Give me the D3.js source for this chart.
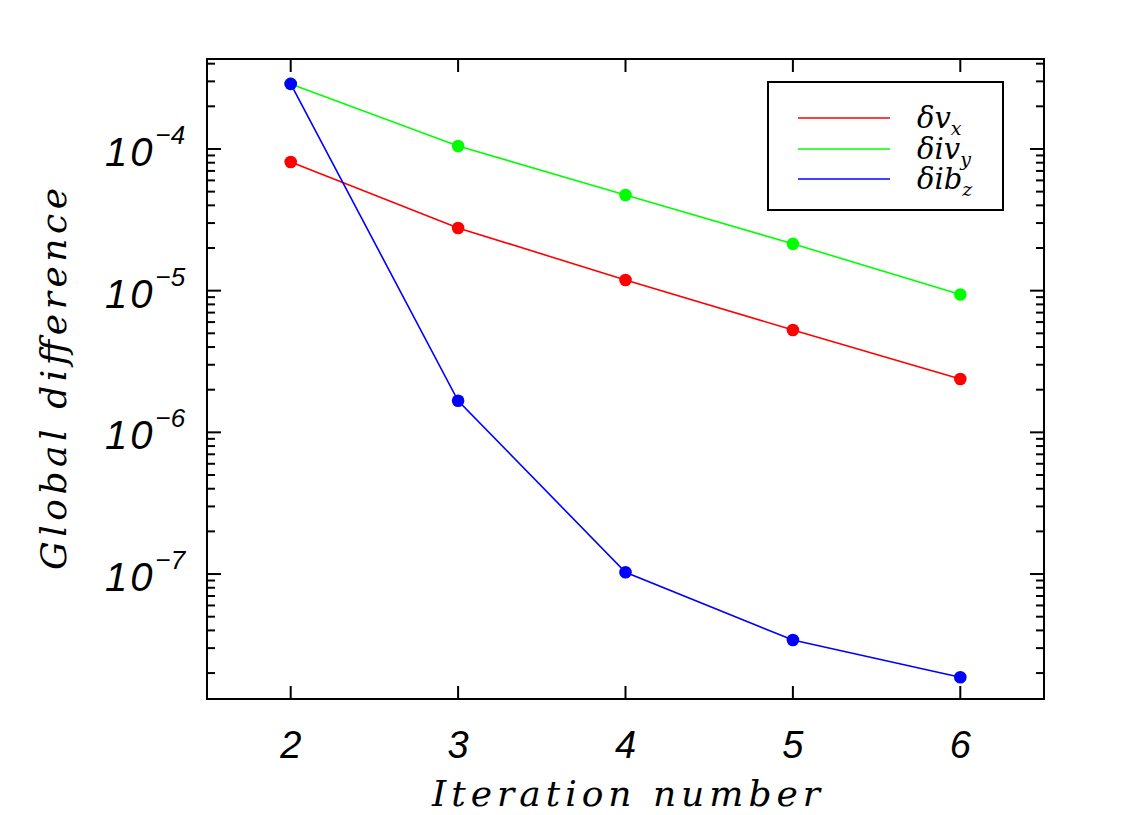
<!DOCTYPE html>
<html>
<head>
<meta charset="utf-8">
<script src="https://cdn.jsdelivr.net/npm/d3@7"></script>
<style>
  body { margin: 0; background: #fff; }
  svg { display: block; }
</style>
</head>
<body>
<svg id="chart"></svg>
<script>
const width = 1146, height = 815;
const margin = {top: 59, right: 102, bottom: 116, left: 207};

// data
const iterations = [2, 3, 4, 5, 6];
const dvx = [8.1e-5, 2.77e-5, 1.19e-5, 5.28e-6, 2.38e-6];
const divy = [2.88e-4, 1.05e-4, 4.73e-5, 2.14e-5, 9.4e-6];
const dibz = [2.88e-4, 1.67e-6, 1.03e-7, 3.42e-8, 1.87e-8];
const yDecades = [-7, -6, -5, -4];

const series = [
    {label: "δv", sub: "x", color: "#ff0000", values: dvx},
    {label: "δiv", sub: "y", color: "#00ff00", values: divy},
    {label: "δib", sub: "z", color: "#0000ff", values: dibz}
];

const svg = d3.select("#chart").attr("width", width).attr("height", height);

const x = d3.scaleLinear().domain([1.5, 6.5]).range([margin.left, width - margin.right]);
const y = d3.scaleLog().domain([Math.pow(10, -7.882), Math.pow(10, -3.365)])
    .range([height - margin.bottom, margin.top]);

const tickFont = "'Liberation Sans', Arial, sans-serif";
const titleFont = "'DejaVu Serif', 'Liberation Serif', serif";

// minor ticks 2..9 per decade inside the domain
const minor = [];
for (let e = -8; e <= -3; e++) {
    for (let m = 2; m <= 9; m++) {
        const v = m * Math.pow(10, e);
        if (v >= y.domain()[0] && v <= y.domain()[1]) minor.push(v);
    }
}
const major = yDecades.map(e => Math.pow(10, e));

const axisG = svg.append("g").attr("stroke", "#000").attr("stroke-width", 2);

// y ticks, left and right
axisG.selectAll(".ymaj").data(major).join("line")
    .attr("x1", margin.left).attr("x2", margin.left + 14)
    .attr("y1", d => y(d)).attr("y2", d => y(d));
axisG.selectAll(".ymajr").data(major).join("line")
    .attr("x1", width - margin.right).attr("x2", width - margin.right - 14)
    .attr("y1", d => y(d)).attr("y2", d => y(d));
axisG.selectAll(".ymin").data(minor).join("line")
    .attr("x1", margin.left).attr("x2", margin.left + 8)
    .attr("y1", d => y(d)).attr("y2", d => y(d));
axisG.selectAll(".yminr").data(minor).join("line")
    .attr("x1", width - margin.right).attr("x2", width - margin.right - 8)
    .attr("y1", d => y(d)).attr("y2", d => y(d));

// x ticks, bottom and top
axisG.selectAll(".xb").data(iterations).join("line")
    .attr("x1", d => x(d)).attr("x2", d => x(d))
    .attr("y1", height - margin.bottom).attr("y2", height - margin.bottom - 13);
axisG.selectAll(".xt").data(iterations).join("line")
    .attr("x1", d => x(d)).attr("x2", d => x(d))
    .attr("y1", margin.top).attr("y2", margin.top + 13);

// frame
svg.append("rect")
    .attr("x", margin.left).attr("y", margin.top)
    .attr("width", width - margin.left - margin.right)
    .attr("height", height - margin.top - margin.bottom)
    .attr("fill", "none").attr("stroke", "#000").attr("stroke-width", 2);

// tick labels
svg.append("g").selectAll("text").data(iterations).join("text")
    .attr("x", d => x(d)).attr("y", 758)
    .attr("text-anchor", "middle")
    .attr("font-family", tickFont).attr("font-style", "italic")
    .attr("font-size", 38)
    .text(d => d);

const yl = svg.append("g").selectAll("text").data(yDecades).join("text")
    .attr("x", 105).attr("y", d => y(Math.pow(10, d)) + 17)
    .attr("font-family", tickFont).attr("font-style", "italic")
    .attr("font-size", 40);
yl.append("tspan").text("10").attr("letter-spacing", 3);
yl.append("tspan").attr("dy", -22).attr("font-size", 26).text(d => "\u2212" + (-d));

// axis titles
svg.append("text")
    .attr("x", 432).attr("y", 806)
    .attr("textLength", 388).attr("lengthAdjust", "spacing")
    .attr("font-family", titleFont).attr("font-style", "italic")
    .attr("font-size", 36)
    .text("Iteration number");

svg.append("text")
    .attr("transform", "translate(66,570) rotate(-90)")
    .attr("textLength", 382).attr("lengthAdjust", "spacing")
    .attr("font-family", titleFont).attr("font-style", "italic")
    .attr("font-size", 36)
    .text("Global difference");

// lines + markers
const line = d3.line().x((d, i) => x(iterations[i])).y(d => y(d));
const plot = svg.append("g");
series.forEach(s => {
    plot.append("path")
        .attr("d", line(s.values))
        .attr("fill", "none").attr("stroke", s.color).attr("stroke-width", 1.6);
});
series.forEach(s => {
    plot.selectAll(null).data(s.values).join("circle")
        .attr("cx", (d, i) => x(iterations[i])).attr("cy", d => y(d))
        .attr("r", 6.3).attr("fill", s.color);
});

// legend
const legend = svg.append("g");
legend.append("rect")
    .attr("x", 768).attr("y", 82).attr("width", 235).attr("height", 128)
    .attr("fill", "#fff").attr("stroke", "#000").attr("stroke-width", 2);
const rowY = [118, 149, 179];
series.forEach((s, i) => {
    legend.append("line")
        .attr("x1", 798).attr("x2", 890).attr("y1", rowY[i]).attr("y2", rowY[i])
        .attr("stroke", s.color).attr("stroke-width", 1.6);
    const t = legend.append("text")
        .attr("x", 917).attr("y", rowY[i] + 10)
        .attr("font-family", titleFont).attr("font-style", "italic")
        .attr("font-size", 29);
    t.append("tspan").text(s.label);
    t.append("tspan").attr("dy", 7).attr("font-size", 19).text(s.sub);
});
</script>
</body>
</html>
